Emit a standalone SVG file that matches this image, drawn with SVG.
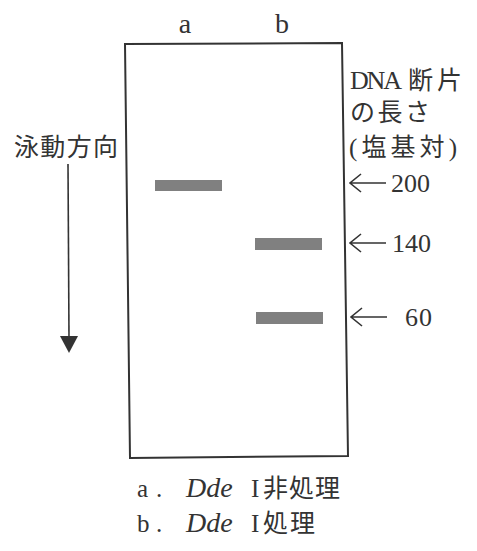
<svg xmlns="http://www.w3.org/2000/svg" width="477" height="551" viewBox="0 0 477 551">
<style>
text{font-family:"Liberation Serif","Noto Sans CJK JP",serif;fill:#333;font-size:24px;}
.jp{font-size:25px;}
.num{font-size:26px;}
.lane{font-size:28px;}
.band{fill:#808080;}
.ln{stroke:#333;stroke-width:1.6;fill:none;}
.it{font-style:italic;font-size:28px;}
</style>
<rect width="477" height="551" fill="#fff"/>
<g id="gel">
<polygon points="125,44 342,43 348,456 130,458" fill="none" stroke="#333" stroke-width="2"/>
<text class="lane" x="185" y="33" text-anchor="middle">a</text>
<text class="lane" x="282" y="33" text-anchor="middle">b</text>
</g>
<g id="bands">
<rect class="band" x="155" y="180" width="67" height="11"/>
<rect class="band" x="255" y="238" width="67" height="12"/>
<rect class="band" x="256" y="312" width="67" height="12"/>
</g>
<g id="direction">
<text class="jp" x="14" y="156" textLength="104">泳動方向</text>
</g>
<g id="size-label">
<text class="num" x="350" y="89" textLength="52">DNA</text>
<text class="jp" x="408" y="89" textLength="54">断片</text>
<text class="jp" x="350" y="121" textLength="80">の長さ</text>
<text class="jp" x="349" y="156" textLength="108">(塩基対)</text>
</g>
<g id="connectors">
<line class="ln" x1="68" y1="164" x2="69" y2="337"/>
<polygon points="60,336 78,336 69,353" fill="#333"/>
<path class="ln" d="M386,183 H351 M361,174 L350,183 L361,192"/>
<path class="ln" d="M386,243 H351 M361,234 L350,243 L361,252"/>
<path class="ln" d="M387,317 H352 M362,308 L351,317 L362,326"/>
</g>
<g id="markers">
<text class="num" x="391" y="192" textLength="39">200</text>
<text class="num" x="392" y="252" textLength="39">140</text>
<text class="num" x="405" y="326" textLength="27">60</text>
</g>
<g id="legend">
<text class="jp" x="137" y="497">a</text>
<text class="jp" x="156" y="497">.</text>
<text class="it" x="186" y="497">Dde</text>
<text class="jp" x="251" y="497">I</text>
<text class="jp" x="263" y="497" textLength="77">非処理</text>
<text class="jp" x="137" y="532">b</text>
<text class="jp" x="156" y="532">.</text>
<text class="it" x="186" y="532">Dde</text>
<text class="jp" x="251" y="532">I</text>
<text class="jp" x="263" y="532" textLength="52">処理</text>
</g>
</svg>
